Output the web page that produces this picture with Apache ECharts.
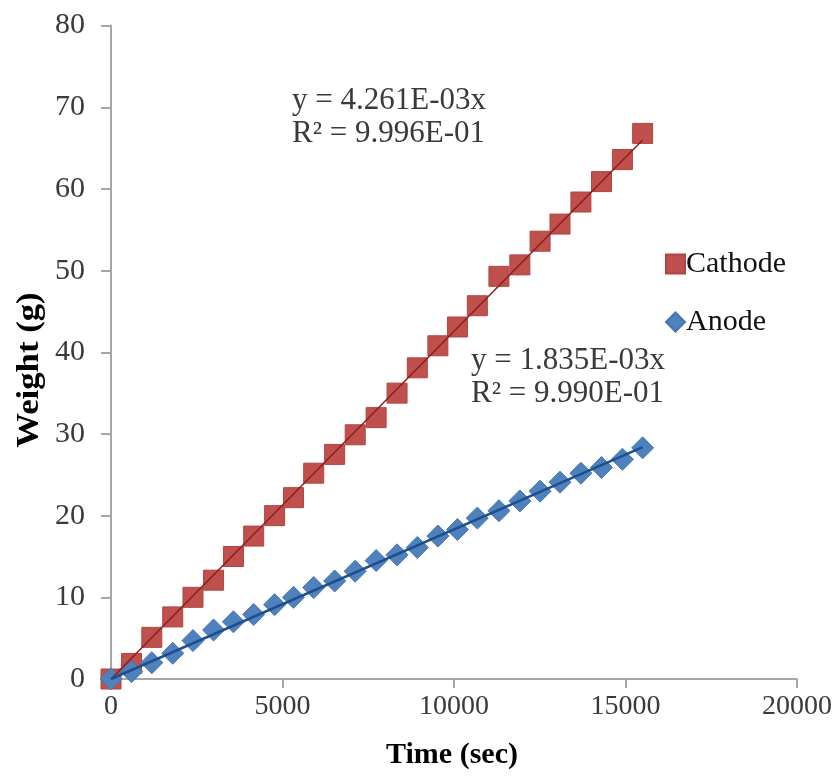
<!DOCTYPE html>
<html>
<head>
<meta charset="utf-8">
<script src="https://cdn.jsdelivr.net/npm/echarts@6/dist/echarts.min.js"></script>
<style>html,body{margin:0;padding:0;background:#fff;}#c{width:839px;height:780px;}</style>
</head>
<body>
<div id="c"></div>
<script>
// Data
var timeSec = [0, 600, 1190, 1800, 2390, 2990, 3570, 4160, 4770, 5320, 5910, 6520, 7120, 7730, 8340, 8930, 9530, 10100, 10680, 11310, 11920, 12510, 13090, 13700, 14300, 14910, 15500];
var cathode = [0, 1.9, 5.1, 7.6, 10.0, 12.1, 15.0, 17.5, 20.0, 22.2, 25.2, 27.5, 29.9, 32.0, 35.0, 38.1, 40.8, 43.1, 45.7, 49.3, 50.7, 53.6, 55.7, 58.4, 60.9, 63.6, 66.8];
var anode = [0, 0.9, 2.0, 3.15, 4.7, 6.0, 7.0, 7.9, 9.1, 10.0, 11.2, 12.0, 13.2, 14.5, 15.2, 16.1, 17.5, 18.3, 19.7, 20.6, 21.8, 23.0, 24.1, 25.2, 25.9, 26.9, 28.3];
// Trendline end points (x, y) as drawn in the picture
var cathodeTrendX = [0, 15500];
var cathodeTrendY = [0, 66.0];
var anodeTrendX = [0, 15500];
var anodeTrendY = [0, 28.4];
var xTicks = [0, 5000, 10000, 15000, 20000];
var yTicks = [0, 10, 20, 30, 40, 50, 60, 70, 80];
var cathodeEq = ['y = 4.261E-03x', 'R² = 9.996E-01'];
var anodeEq = ['y = 1.835E-03x', 'R² = 9.990E-01'];
var xTitle = 'Time (sec)';
var yTitle = 'Weight (g)';

function pairs(xs, ys){ return xs.map(function(x,i){ return [x, ys[i]]; }); }

var FONT = 'Liberation Serif';
var chart = echarts.init(document.getElementById('c'), null, {renderer:'canvas'});
chart.setOption({
  animation: false,
  backgroundColor: '#ffffff',
  grid: {left: 111, right: 42, top: 25.6, bottom: 101, containLabel: false},
  xAxis: {
    type: 'value', min: xTicks[0], max: xTicks[xTicks.length-1], interval: 5000,
    axisLine: {lineStyle: {color: '#a6a6a6', width: 2}},
    axisTick: {show: true, length: 9, lineStyle: {color: '#a6a6a6', width: 2}},
    axisLabel: {fontFamily: FONT, fontSize: 28, color: '#3a3a3a', margin: 14,
      formatter: function(v){ return String(v); }},
    splitLine: {show: false}
  },
  yAxis: {
    type: 'value', min: yTicks[0], max: yTicks[yTicks.length-1], interval: 10,
    axisLine: {show: true, lineStyle: {color: '#a6a6a6', width: 2}},
    axisTick: {show: true, length: 10, lineStyle: {color: '#a6a6a6', width: 2}},
    axisLabel: {fontFamily: FONT, fontSize: 30, color: '#3a3a3a', margin: 26},
    splitLine: {show: false}
  },
  legend: {
    orient: 'vertical', left: 660, top: 244, itemGap: 28,
    itemWidth: 19, itemHeight: 19,
    data: [{name:'Cathode', icon:'rect'}, {name:'Anode', icon:'diamond'}],
    textStyle: {fontFamily: FONT, fontSize: 30, color: '#111', padding: [0,0,0,-4]}
  },
  series: [
    {
      name: 'Cathode', type: 'scatter', symbol: 'rect', symbolSize: 20,
      itemStyle: {color: '#C0504D', borderColor: '#b04541', borderWidth: 1, opacity: 1},
      data: pairs(timeSec, cathode), z: 2
    },
    {
      name: 'Anode', type: 'scatter', symbol: 'diamond', symbolSize: 22,
      itemStyle: {color: '#4F81BD', borderColor: '#4675b0', borderWidth: 1, opacity: 1},
      data: pairs(timeSec, anode), z: 3
    },
    {
      name: 'CathodeTrend', type: 'line', showSymbol: false, symbol: 'none',
      lineStyle: {color: '#8B1F1C', width: 1.5}, data: pairs(cathodeTrendX, cathodeTrendY), z: 5, silent: true
    },
    {
      name: 'AnodeTrend', type: 'line', showSymbol: false, symbol: 'none',
      lineStyle: {color: '#1F4E8C', width: 2.5}, data: pairs(anodeTrendX, anodeTrendY), z: 5, silent: true
    }
  ],
  graphic: [
    {type:'text', left: 292, top: 84, style:{text: cathodeEq.join('\n'), font: '31px "' + FONT + '"', fill:'#3a3a3a', lineHeight: 33}},
    {type:'text', left: 471, top: 344, style:{text: anodeEq.join('\n'), font: '31px "' + FONT + '"', fill:'#3a3a3a', lineHeight: 33}},
    {type:'text', x: 452, y: 755, style:{text: xTitle, font: 'bold 30px "' + FONT + '"', fill:'#000', align:'center', verticalAlign:'middle'}},
    {type:'text', x: 30, y: 370, rotation: Math.PI/2, scaleX: 1.12, style:{text: yTitle, font: 'bold 31px "' + FONT + '"', fill:'#000', align:'center', verticalAlign:'middle'}}
  ]
});
</script>
</body>
</html>
